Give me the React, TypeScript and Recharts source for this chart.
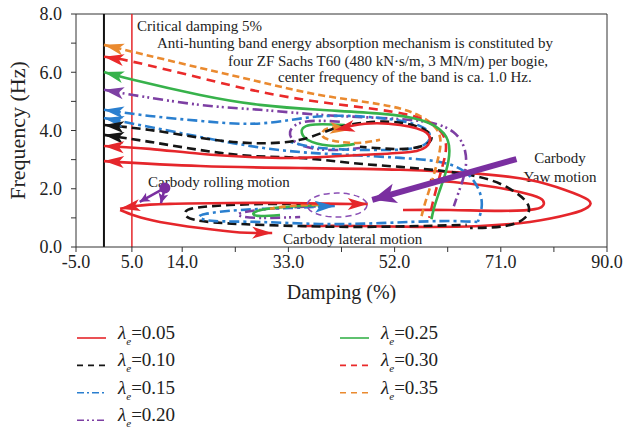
import React from "react";
import { Line, LineChart, ReferenceDot, ReferenceLine, XAxis, YAxis } from "recharts";

type Pt = [number, number];
type ArrowMode = "none" | "start" | "end" | "both";

const lambdaLabels = ["0.05", "0.10", "0.15", "0.20", "0.25", "0.30", "0.35"];

const xTicks = [-5, 5, 14, 23.5, 33, 42.5, 52, 61.5, 71, 80.5, 90];
const xLabelled = [-5, 5, 14, 33, 52, 71, 90];
const yTicks = [0, 1, 2, 3, 4, 5, 6, 7, 8];

// λe = 0.05 (red, solid)
const red05Mid: Pt[] = [[0.0, 3.47], [8.2, 3.37], [17.2, 3.2], [26.1, 3.09], [35.1, 3.06], [45.8, 3.16], [54.8, 3.26], [58.0, 3.51], [57.7, 3.92], [53.0, 4.19], [46.7, 4.23], [41.3, 4.02]];
const red05Outer: Pt[] = [[0.0, 2.95], [17.2, 2.78], [35.1, 2.71], [53.0, 2.65], [67.3, 2.51], [76.2, 2.3], [82.5, 1.96], [86.6, 1.62], [86.6, 1.37], [83.4, 1.13], [76.2, 0.86], [67.3, 0.72], [56.5, 0.69], [45.8, 0.72], [35.1, 0.72]];
const red05Inner: Pt[] = [[58.3, 2.3], [67.3, 2.13], [74.4, 1.89], [78.0, 1.68], [78.7, 1.48], [77.1, 1.3], [70.8, 1.24], [61.9, 1.27], [53.5, 1.27]];
const red05LowUpper: Pt[] = [[2.9, 1.31], [5.6, 1.41], [11.8, 1.48], [22.5, 1.51], [33.3, 1.51], [42.2, 1.48], [47.2, 1.48]];
const red05LowLower: Pt[] = [[2.9, 1.27], [5.6, 1.07], [10.0, 0.86], [17.2, 0.65], [24.3, 0.5], [30.1, 0.48]];

// λe = 0.10 (black, dashed)
const black10Loop: Pt[] = [[0.0, 4.19], [8.2, 4.02], [17.2, 3.75], [26.1, 3.57], [35.1, 3.68], [42.2, 4.12], [51.2, 4.3], [57.4, 4.02], [58.3, 3.61], [53.9, 3.37], [45.8, 3.44]];
const black10Long: Pt[] = [[0.0, 3.85], [8.2, 3.61], [17.2, 3.33], [26.1, 3.13], [35.1, 3.06], [44.0, 2.89], [53.0, 2.75], [61.9, 2.58], [69.1, 2.3], [73.5, 1.89], [75.9, 1.44], [75.3, 1.0], [71.7, 0.72], [65.5, 0.65]];
const black10Low: Pt[] = [[41.0, 1.44], [31.5, 1.48], [22.5, 1.44], [16.3, 1.34], [14.5, 1.17], [16.3, 0.93], [24.3, 0.79], [35.1, 0.72], [45.8, 0.69], [56.5, 0.72], [64.9, 0.76]];

// λe = 0.15 (blue, dash-dot)
const blue15Loop: Pt[] = [[0.0, 4.71], [8.2, 4.5], [17.2, 4.33], [26.1, 4.23], [33.3, 4.36], [40.4, 4.5], [49.4, 4.43], [56.5, 4.16], [58.3, 3.75], [55.6, 3.4], [47.6, 3.33], [38.6, 3.4], [33.3, 3.61]];
const blue15Long: Pt[] = [[0.0, 4.43], [8.2, 4.12], [17.2, 3.78], [26.1, 3.47], [35.1, 3.26], [44.0, 3.16], [53.0, 3.06], [60.1, 2.92], [64.6, 2.58], [66.9, 2.03], [67.6, 1.44], [66.9, 0.86]];
const blue15Low: Pt[] = [[41.3, 1.41], [33.3, 1.34], [24.3, 1.27], [18.1, 1.13], [17.2, 1.0], [19.9, 0.89], [27.9, 0.86], [38.6, 0.79], [49.4, 0.82], [60.1, 0.89], [66.9, 0.86]];

// λe = 0.20 (purple, dash-dot-dot)
const purple20Upper: Pt[] = [[0.0, 5.4], [5.2, 5.22], [17.2, 4.88], [27.9, 4.71], [38.6, 4.54], [49.4, 4.43], [57.5, 4.3], [62.5, 3.95], [64.6, 3.3], [64.6, 2.6], [63.6, 1.96], [62.6, 1.4]];
const purple20Mid: Pt[] = [[42.2, 4.3], [36.0, 4.3], [33.3, 3.95], [35.1, 3.51], [40.4, 3.33], [45.8, 3.4]];
const purple20Low: Pt[] = [[40.4, 1.41], [31.5, 1.34], [25.2, 1.2], [24.3, 1.07], [27.9, 1.0], [35.1, 1.03]];

// λe = 0.25 (green, solid)
const green25Upper: Pt[] = [[0.0, 6.01], [5.2, 5.74], [17.2, 5.22], [27.9, 4.88], [38.6, 4.71], [49.4, 4.58], [56.8, 4.35], [60.8, 3.9], [61.8, 3.3], [61.2, 2.6], [60.0, 1.9], [59.0, 1.3], [58.6, 0.95]];
const green25Mid: Pt[] = [[43.1, 4.19], [36.9, 4.19], [35.4, 3.92], [37.2, 3.61], [41.3, 3.47], [44.9, 3.54]];
const green25Low: Pt[] = [[38.6, 1.44], [30.6, 1.34], [27.0, 1.2], [27.5, 1.07], [31.5, 1.1]];

// λe = 0.30 (red, dashed)
const red30Upper: Pt[] = [[0.0, 6.53], [5.2, 6.36], [17.2, 5.81], [27.9, 5.33], [38.6, 4.98], [49.4, 4.71], [56.5, 4.42], [60.3, 3.95], [61.2, 3.4], [60.6, 2.8], [59.6, 2.1], [58.8, 1.5], [58.2, 1.0]];

// λe = 0.35 (orange, dashed)
const orange35Upper: Pt[] = [[0.0, 6.94], [5.2, 6.7], [17.2, 6.15], [27.9, 5.67], [38.6, 5.22], [49.4, 4.9], [56.0, 4.55], [59.5, 4.05], [60.2, 3.5], [59.6, 2.9], [58.6, 2.2], [57.6, 1.6], [56.8, 1.05]];
const orange35Mid: Pt[] = [[44.0, 4.02], [40.4, 4.09], [39.0, 3.88], [40.4, 3.68], [44.9, 3.57], [49.4, 3.68]];
const orange35Low: Pt[] = [[40.4, 1.48], [33.3, 1.41], [29.7, 1.31]];

// annotation pointers
const yawPointer: Pt[] = [[73.8, 3.02], [48.0, 1.62]];
const rollPointerA: Pt[] = [[10.9, 2.03], [6.4, 1.55]];
const rollPointerB: Pt[] = [[10.9, 2.03], [10.2, 1.5]];

const seriesStyles = [
  { color: "#e5262b", dash: undefined as string | undefined, legendDash: undefined as string | undefined },
  { color: "#151515", dash: "9 5", legendDash: "6 5" },
  { color: "#2a7fcf", dash: "10 4 3 4", legendDash: "7 3 2 3" },
  { color: "#7d3fa3", dash: "10 4 2 3 2 4", legendDash: "7 3 2 3 2 3" },
  { color: "#37b24b", dash: undefined, legendDash: undefined },
  { color: "#ea2a2a", dash: "9 6", legendDash: "6 5" },
  { color: "#ea8a2f", dash: "7 4", legendDash: "6 5" },
];

const curves: { pts: Pt[]; s: number; arrow: ArrowMode }[] = [
  { pts: red05Outer, s: 0, arrow: "start" },
  { pts: red05Inner, s: 0, arrow: "none" },
  { pts: black10Long, s: 1, arrow: "start" },
  { pts: blue15Long, s: 2, arrow: "start" },
  { pts: purple20Upper, s: 3, arrow: "start" },
  { pts: orange35Upper, s: 6, arrow: "start" },
  { pts: red30Upper, s: 5, arrow: "start" },
  { pts: green25Upper, s: 4, arrow: "start" },
  { pts: purple20Mid, s: 3, arrow: "none" },
  { pts: green25Mid, s: 4, arrow: "none" },
  { pts: orange35Mid, s: 6, arrow: "start" },
  { pts: blue15Loop, s: 2, arrow: "start" },
  { pts: black10Loop, s: 1, arrow: "start" },
  { pts: red05Mid, s: 0, arrow: "both" },
  { pts: black10Low, s: 1, arrow: "none" },
  { pts: blue15Low, s: 2, arrow: "start" },
  { pts: purple20Low, s: 3, arrow: "none" },
  { pts: green25Low, s: 4, arrow: "none" },
  { pts: orange35Low, s: 6, arrow: "none" },
  { pts: red05LowUpper, s: 0, arrow: "both" },
  { pts: red05LowLower, s: 0, arrow: "end" },
];

const X_MIN = -5;
const X_MAX = 90;
const Y_MAX = 8;
const CHART_W = 624;
const CHART_H = 310;
const M_TOP = 14;
const M_RIGHT = 17;
const Y_AXIS_W = 76;
const X_AXIS_H = 63;
const PX_PER_X = (CHART_W - Y_AXIS_W - M_RIGHT) / (X_MAX - X_MIN);
const PX_PER_Y = (CHART_H - M_TOP - X_AXIS_H) / Y_MAX;

const SERIF = "'Liberation Serif', 'DejaVu Serif', serif";
const INK = "#222";

const toRows = (pts: Pt[]) => pts.map(([d, f]) => ({ d, f }));

function makeArrowDot(pts: Pt[], arrow: ArrowMode, color: string, len = 20, half = 6) {
  return (props: any) => {
    const { cx, cy, index } = props;
    const last = pts.length - 1;
    let from: Pt | null = null;
    if ((arrow === "start" || arrow === "both") && index === 0) from = pts[1];
    if ((arrow === "end" || arrow === "both") && index === last) from = pts[last - 1];
    if (!from || cx == null || cy == null) return <g key={`n${index}`} />;
    const cur = pts[index];
    const a = Math.atan2(-(cur[1] - from[1]) * PX_PER_Y, (cur[0] - from[0]) * PX_PER_X);
    const bx = cx - len * Math.cos(a);
    const by = cy - len * Math.sin(a);
    const nx = -Math.sin(a) * half;
    const ny = Math.cos(a) * half;
    const p = `${cx},${cy} ${bx + nx},${by + ny} ${bx + len * 0.25 * Math.cos(a)},${by + len * 0.25 * Math.sin(a)} ${bx - nx},${by - ny}`;
    return <polygon key={`a${index}`} points={p} fill={color} stroke="none" />;
  };
}

function LegendRow({ x, y, s, label }: { x: number; y: number; s: number; label: string }) {
  const st = seriesStyles[s];
  return (
    <g>
      <line x1={x} x2={x + 29} y1={y - 1} y2={y - 1} stroke={st.color} strokeWidth={1.6} strokeDasharray={st.legendDash} />
      <text x={x + 41} y={y} fontFamily={SERIF} fontSize={19} fill={INK}>
        <tspan fontStyle="italic">λ</tspan>
        <tspan fontStyle="italic" fontSize={11} dy={6}>e</tspan>
        <tspan dy={-6}>={label}</tspan>
      </text>
    </g>
  );
}

export default function App() {
  return (
    <div style={{ position: "absolute", left: 0, top: 0, width: 624, height: 434, background: "#fff" }}>
      <LineChart width={CHART_W} height={CHART_H} margin={{ top: M_TOP, right: M_RIGHT, left: 0, bottom: 0 }}>
        <XAxis
          dataKey="d"
          type="number"
          domain={[X_MIN, X_MAX]}
          ticks={xTicks}
          interval={0}
          allowDataOverflow
          height={X_AXIS_H}
          tickSize={5}
          tickMargin={3}
          stroke="#333"
          tick={{ fill: INK, fontSize: 18, fontFamily: SERIF }}
          tickFormatter={(v: number) => (xLabelled.includes(v) ? v.toFixed(1) : "")}
          label={{ value: "Damping (%)", position: "insideBottom", offset: 11, fill: INK, fontSize: 20, fontFamily: SERIF }}
        />
        <YAxis
          type="number"
          domain={[0, Y_MAX]}
          ticks={yTicks}
          interval={0}
          allowDataOverflow
          width={Y_AXIS_W}
          tickSize={5}
          tickMargin={9}
          stroke="#333"
          tick={{ fill: INK, fontSize: 18, fontFamily: SERIF }}
          tickFormatter={(v: number) => (v % 2 === 0 ? v.toFixed(1) : "")}
          label={{
            value: "Frequency (Hz)",
            angle: -90,
            position: "insideLeft",
            offset: 17,
            fill: INK,
            fontSize: 22,
            fontFamily: SERIF,
            style: { textAnchor: "middle" },
          }}
        />
        <ReferenceLine y={Y_MAX} stroke="#333" strokeWidth={1} />
        <ReferenceLine x={X_MAX} stroke="#333" strokeWidth={1} />
        <ReferenceLine x={0} stroke="#111" strokeWidth={2} />
        <ReferenceLine x={5} stroke="#e5262b" strokeWidth={1.5} />

        {curves.map((c, i) => {
          const st = seriesStyles[c.s];
          return (
            <Line
              key={`c${i}`}
              data={toRows(c.pts)}
              dataKey="f"
              type="natural"
              stroke={st.color}
              strokeWidth={2.6}
              strokeDasharray={st.dash}
              dot={makeArrowDot(c.pts, c.arrow, st.color)}
              activeDot={false}
              isAnimationActive={false}
            />
          );
        })}

        <Line data={toRows(yawPointer)} dataKey="f" type="linear" stroke="#7a2fa0" strokeWidth={6} dot={makeArrowDot(yawPointer, "end", "#7a2fa0", 24, 10)} activeDot={false} isAnimationActive={false} />
        <Line data={toRows(rollPointerA)} dataKey="f" type="linear" stroke="#7a2fa0" strokeWidth={2.5} dot={makeArrowDot(rollPointerA, "end", "#7a2fa0", 10, 5)} activeDot={false} isAnimationActive={false} />
        <Line data={toRows(rollPointerB)} dataKey="f" type="linear" stroke="#7a2fa0" strokeWidth={2.5} dot={makeArrowDot(rollPointerB, "end", "#7a2fa0", 10, 5)} activeDot={false} isAnimationActive={false} />
        <ReferenceDot x={10.9} y={2.03} r={5.5} fill="#7a2fa0" stroke="none" />
        <ReferenceDot
          x={41.7}
          y={1.44}
          shape={(p: any) => <ellipse cx={p.cx} cy={p.cy} rx={30} ry={12} fill="none" stroke="#8a4fb5" strokeWidth={1.5} strokeDasharray="6 4" />}
        />

        <text x={137} y={31} fontFamily={SERIF} fontSize={15} fill={INK}>Critical damping 5%</text>
        <text x={157} y={48} fontFamily={SERIF} fontSize={15} fill={INK}>Anti-hunting band energy absorption mechanism is constituted by</text>
        <text x={228} y={66} fontFamily={SERIF} fontSize={15} fill={INK}>four ZF Sachs T60 (480 kN·s/m, 3 MN/m) per bogie,</text>
        <text x={278} y={82} fontFamily={SERIF} fontSize={15} fill={INK}>center frequency of the band is ca. 1.0 Hz.</text>
        <text x={148} y={187} fontFamily={SERIF} fontSize={15} fill={INK}>Carbody rolling motion</text>
        <text x={560} y={163} textAnchor="middle" fontFamily={SERIF} fontSize={15} fill={INK}>Carbody</text>
        <text x={560} y={182} textAnchor="middle" fontFamily={SERIF} fontSize={15} fill={INK}>Yaw motion</text>
        <text x={283} y={244} fontFamily={SERIF} fontSize={15} fill={INK}>Carbody lateral motion</text>
      </LineChart>

      <svg width={624} height={124} style={{ position: "absolute", left: 0, top: 310 }}>
        {lambdaLabels.map((label, i) => {
          const col = i < 4 ? 0 : 1;
          const row = i < 4 ? i : i - 4;
          return <LegendRow key={label} x={col === 0 ? 77 : 340} y={29 + row * 27.4} s={i} label={label} />;
        })}
      </svg>
    </div>
  );
}
